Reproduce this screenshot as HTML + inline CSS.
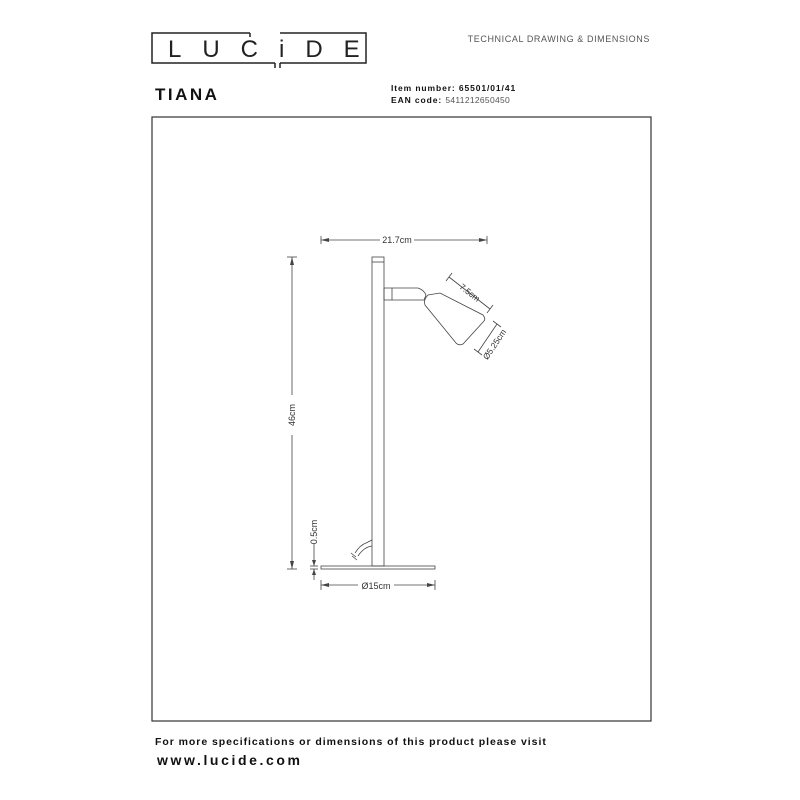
<!DOCTYPE html>
<html><head><style>
body{margin:0;background:#fff;}
svg{display:block}
</style></head><body>
<svg width="800" height="800" viewBox="0 0 800 800" xmlns="http://www.w3.org/2000/svg" font-family="Liberation Sans, sans-serif">
<!-- logo -->
<path d="M250 33 H152 V63 H275 M280 33 H366 V63 H280" fill="none" stroke="#222" stroke-width="1.5"/>
<path d="M250 33 V37 M275 63 V68 M280 63 V68" stroke="#222" stroke-width="1.5" fill="none"/>
<text x="168" y="57" font-size="24" fill="#222" letter-spacing="21" font-weight="normal">LUCiDE</text>
<text x="650" y="42" font-size="9" fill="#555" text-anchor="end" letter-spacing="0.6">TECHNICAL DRAWING &amp; DIMENSIONS</text>
<text x="155" y="100" font-size="17" font-weight="bold" fill="#111" letter-spacing="2.5">TIANA</text>
<text x="391" y="91" font-size="8.5" font-weight="bold" fill="#111" letter-spacing="0.9">Item number: 65501/01/41</text>
<text x="391" y="103" font-size="8.5" font-weight="bold" fill="#111" letter-spacing="0.9">EAN code: <tspan font-weight="normal" fill="#555" letter-spacing="0.3">5411212650450</tspan></text>
<rect x="152" y="117" width="499" height="604" fill="none" stroke="#333" stroke-width="1.2"/>
<text x="155" y="745" font-size="10.5" font-weight="bold" fill="#111" letter-spacing="0.95">For more specifications or dimensions of this product please visit</text>
<text x="157" y="765" font-size="14" font-weight="bold" fill="#111" letter-spacing="2.6">www.lucide.com</text>
<g stroke="#444" stroke-width="0.8" fill="none">
<rect x="372" y="257" width="12" height="309"/>
<line x1="372" y1="262" x2="384" y2="262"/>
<rect x="321" y="566" width="114" height="3"/>
<path d="M384 288 H418 Q424 290 426 295 L424 300 H384 Z"/>
<line x1="392" y1="288" x2="392" y2="300"/>
<path d="M428 295 L440 293 L483 315 Q486 319 484 321 L463 344 Q459 346 456 343 L425 305 Q423 300 428 295 Z"/>
<path d="M372 540 L366 543 Q360 545 355 553 M372 546 Q364 547 358 556"/>
<path d="M351 553 L356 557 M352 556 L357 560"/>
<line x1="321" y1="240" x2="487" y2="240"/>
<line x1="321" y1="236" x2="321" y2="244"/><line x1="487" y1="236" x2="487" y2="244"/>
<line x1="292" y1="257" x2="292" y2="569"/>
<line x1="287" y1="257" x2="297" y2="257"/><line x1="287" y1="569" x2="297" y2="569"/>
<line x1="314" y1="520" x2="314" y2="566"/><line x1="314" y1="569" x2="314" y2="580"/>
<line x1="310" y1="566" x2="318" y2="566"/><line x1="310" y1="569" x2="318" y2="569"/>
<line x1="321" y1="585" x2="435" y2="585"/>
<line x1="321" y1="580" x2="321" y2="590"/><line x1="435" y1="580" x2="435" y2="590"/>
<line x1="449" y1="277" x2="490" y2="309"/>
<line x1="446" y1="281" x2="452" y2="273"/><line x1="487" y1="313" x2="493" y2="305"/>
<line x1="497" y1="324" x2="478" y2="352"/>
<line x1="493" y1="321" x2="501" y2="327"/><line x1="474" y1="349" x2="482" y2="355"/>
</g>
<g fill="#444">
<path d="M321 240 l8 -2 v4z M487 240 l-8 -2 v4z M292 257 l-2 8 h4z M292 569 l-2 -8 h4z M321 585 l8 -2 v4z M435 585 l-8 -2 v4z M314 566 l-2 -6 h4z M314 569 l-2 6 h4z"/>
</g>
<g font-size="9" fill="#333">
<rect x="380" y="234" width="34" height="12" fill="#fff"/>
<text x="397" y="243" text-anchor="middle">21.7cm</text>
<rect x="286" y="395" width="12" height="40" fill="#fff"/>
<text transform="translate(295,415) rotate(-90)" text-anchor="middle">46cm</text>
<rect x="308" y="520" width="12" height="24" fill="#fff"/>
<text transform="translate(317,532) rotate(-90)" text-anchor="middle">0.5cm</text>
<rect x="358" y="579" width="36" height="12" fill="#fff"/>
<text x="376" y="589" text-anchor="middle">Ø15cm</text>
<text transform="translate(468,295) rotate(38)" text-anchor="middle" font-size="8.5">7.5cm</text>
<text transform="translate(497,346) rotate(-56)" text-anchor="middle" font-size="8.5">Ø5.25cm</text>
</g>
</svg>
</body></html>
